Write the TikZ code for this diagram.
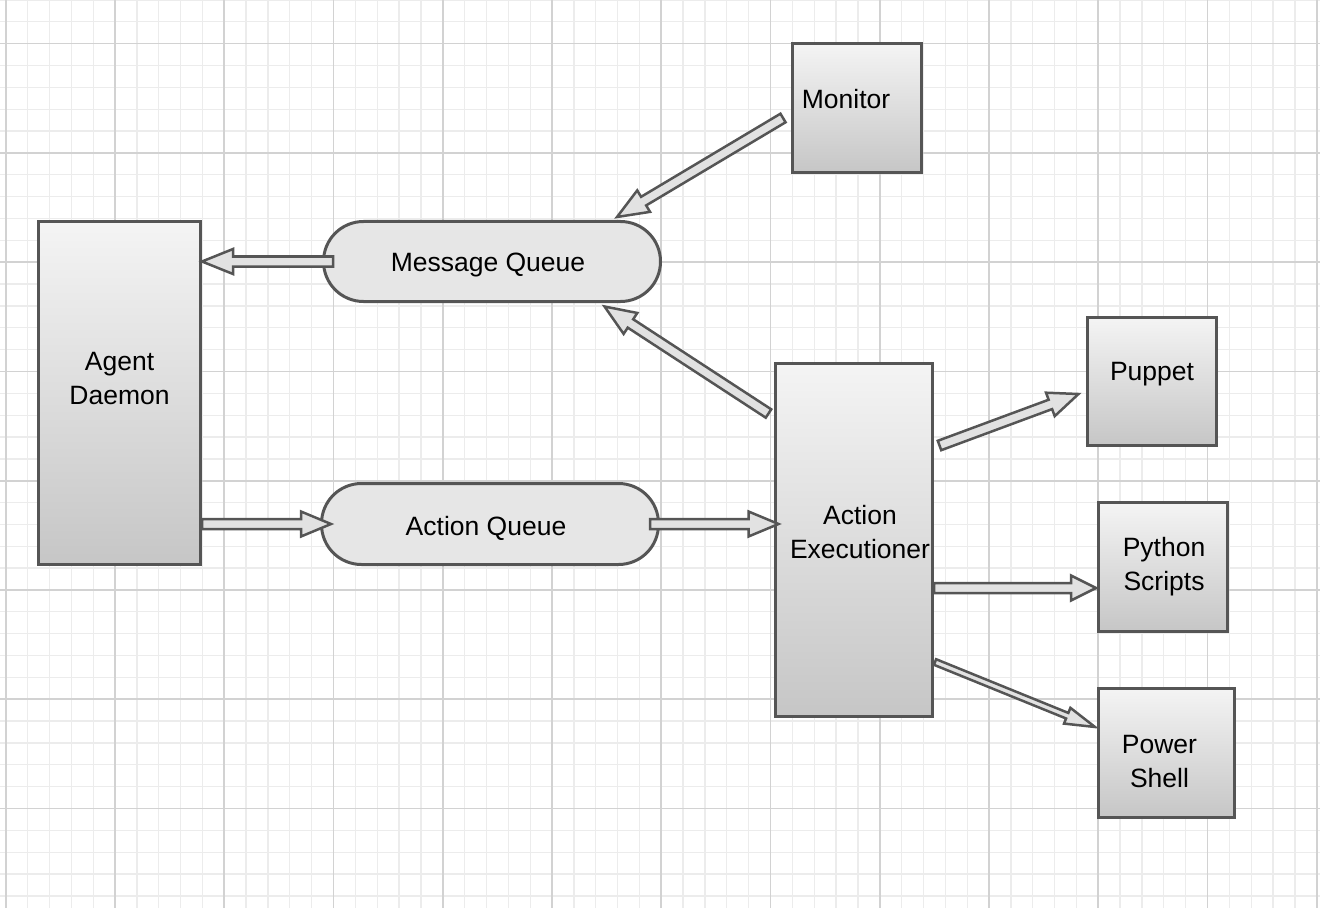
\documentclass[tikz,border=0pt]{standalone}
\usepackage{fontspec}
\setmainfont{Liberation Sans}
\usetikzlibrary{calc}

\definecolor{edgegray}{HTML}{555555}
\definecolor{boxtop}{HTML}{F4F4F4}
\definecolor{boxbottom}{HTML}{C6C6C6}
\definecolor{queuefill}{HTML}{E6E6E6}
\definecolor{arrowfill}{HTML}{E2E2E2}
\definecolor{gridminor}{HTML}{ECECEC}
\definecolor{gridmajor}{HTML}{D2D2D2}

\tikzset{
  box/.style={draw=edgegray, line width=3pt, rectangle, top color=boxtop, bottom color=boxbottom},
  queue/.style={draw=edgegray, line width=3pt, rectangle, rounded corners=40pt, fill=queuefill},
  boxtext/.style={font=\fontsize{26.5}{34}\selectfont, align=center, text=black},
  arrowbody/.style={draw=edgegray, line width=2.5pt, fill=arrowfill, line join=miter}
}

% block arrow: from, to, shaft half width, head half width, head length
\newcommand{\blockarrow}[5]{%
  \coordinate (ba-s) at (#1);
  \coordinate (ba-t) at (#2);
  \coordinate (ba-h) at ($(ba-t)!#5!(ba-s)$);
  \draw[arrowbody] ($(ba-s)!#3!90:(ba-t)$) -- ($(ba-h)!#3!90:(ba-t)$)
    -- ($(ba-h)!#4!90:(ba-t)$) -- (ba-t) -- ($(ba-h)!#4!-90:(ba-t)$)
    -- ($(ba-h)!#3!-90:(ba-t)$) -- ($(ba-s)!#3!-90:(ba-t)$) -- cycle;
}

\begin{document}
\begin{tikzpicture}[x=1pt, y=-1pt]
    \useasboundingbox (0,0) rectangle (1320,920);

    % Griglia
    \foreach \i in {0,...,60}
        \draw[gridminor, line width=1.3pt] ({5.75+21.85*\i},0) -- ({5.75+21.85*\i},908);
    \foreach \j in {0,...,41}
        \draw[gridminor, line width=1.3pt] (0,{21.85*\j}) -- (1320,{21.85*\j});
    \foreach \i in {0,5,...,60}
        \draw[gridmajor, line width=1.6pt] ({5.75+21.85*\i},0) -- ({5.75+21.85*\i},908);
    \foreach \j in {2,7,...,41}
        \draw[gridmajor, line width=1.6pt] (0,{21.85*\j}) -- (1320,{21.85*\j});

    % Blocchi
    \node[box, minimum width=162pt, minimum height=343pt,
          label={[boxtext, yshift=14pt]center:Agent\\Daemon}] (ad) at (119.5,393) {};
    \node[queue, minimum width=337pt, minimum height=80pt,
          label={[boxtext, xshift=-4pt, yshift=-3pt]center:Message Queue}] (mq) at (492,261.5) {};
    \node[queue, minimum width=337pt, minimum height=81pt,
          label={[boxtext, xshift=-4pt, yshift=-4pt]center:Action Queue}] (aq) at (490,524) {};
    \node[box, minimum width=129pt, minimum height=129pt,
          label={[boxtext, xshift=-11pt, yshift=9pt]center:Monitor}] (mon) at (857,108) {};
    \node[box, minimum width=157pt, minimum height=353pt,
          label={[boxtext, xshift=6pt, yshift=8pt]center:Action\\Executioner}] (ae) at (854,540) {};
    \node[box, minimum width=129pt, minimum height=128pt,
          label={[boxtext, yshift=7pt]center:Puppet}] (pup) at (1152,381.5) {};
    \node[box, minimum width=129pt, minimum height=129pt,
          label={[boxtext, xshift=1pt]center:Python\\Scripts}] (py) at (1163,567) {};
    \node[box, minimum width=136pt, minimum height=129pt,
          label={[boxtext, xshift=-7pt, yshift=-9pt]center:Power\\Shell}] (ps) at (1166.5,753) {};

    % Frecce
    \blockarrow{$(mq.west)+(11,0)$}{ad.east |- mq.west}{5pt}{12.5pt}{31pt}
    \blockarrow{$(mon.west)+(-8,10)$}{$(mq.north east)+(-45,-3)$}{5pt}{12.5pt}{31pt}
    \blockarrow{$(ae.north west)+(-5.5,51.5)$}{$(mq.south east)+(-57.5,3.5)$}{5pt}{12.5pt}{31pt}
    \blockarrow{ad.east |- aq.west}{$(aq.west)+(11,0)$}{5pt}{12.5pt}{30pt}
    \blockarrow{$(aq.east)+(-10,0)$}{$(ae.west |- aq.east)+(4.5,0)$}{5pt}{12.5pt}{30pt}
    \blockarrow{$(ae.north east)+(5.5,83.5)$}{$(pup.west)+(-7.5,12.5)$}{5pt}{12.5pt}{30pt}
    \blockarrow{$(ae.east)+(0,48)$}{$(py.west)+(-1,21)$}{5pt}{12.5pt}{25pt}
    \blockarrow{$(ae.east)+(1,122)$}{$(ps.west)+(-2,-26)$}{3pt}{8.5pt}{30pt}

\end{tikzpicture}
\end{document}
